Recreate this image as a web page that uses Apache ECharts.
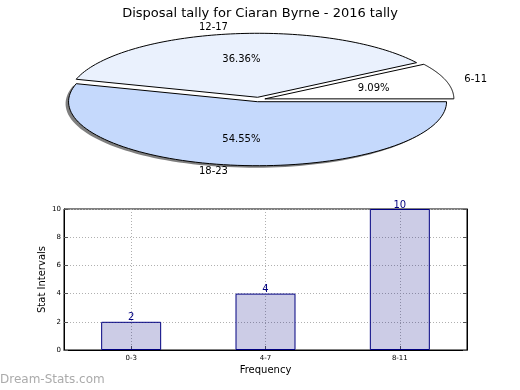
<!DOCTYPE html>
<html><head><meta charset="utf-8">
<script src="https://cdn.jsdelivr.net/npm/echarts@6/dist/echarts.min.js"></script>
<style>html,body{margin:0;padding:0;background:#fff}#c{width:520px;height:390px}</style>
</head><body><div id="c"></div>
<script>
var title = 'Disposal tally for Ciaran Byrne - 2016 tally';
var pieNames = ['6-11', '12-17', '18-23'];
var pieValues = [1, 4, 6];
var barCategories = ['0-3', '4-7', '8-11'];
var barValues = [2, 4, 10];
var yTicks = [0, 2, 4, 6, 8, 10];

var FONT = 'DejaVu Sans';
var pieColors = ['#ffffff', '#eaf1fd', '#c5d9fc'];
var PIE = {cx: 258.5, cy: 99.5, rx: 189, ry: 64, explode: 0.035};
var total = pieValues.reduce(function (a, b) { return a + b; }, 0);

function pt(cx, cy, a) { return [cx + PIE.rx * Math.cos(a), cy - PIE.ry * Math.sin(a)]; }

function renderPie(params, api) {
  var i = params.dataIndex;
  var start = 0;
  for (var k = 0; k < i; k++) start += pieValues[k];
  var a1 = start / total * 2 * Math.PI;
  var a2 = (start + pieValues[i]) / total * 2 * Math.PI;
  var am = (a1 + a2) / 2;
  var cx = PIE.cx + PIE.explode * PIE.rx * Math.cos(am);
  var cy = PIE.cy - PIE.explode * PIE.ry * Math.sin(am);
  var pts = [[cx, cy]];
  var n = 90;
  for (var s = 0; s <= n; s++) pts.push(pt(cx, cy, a1 + (a2 - a1) * s / n));
  var children = [];
  if (i === pieValues.length - 1) {
    var sh = pts.map(function (p) { return [p[0] - 3, p[1] + 2]; });
    children.push({type: 'polygon', shape: {points: sh}, style: {fill: 'rgba(0,0,0,0.5)', stroke: null}});
  }
  children.push({type: 'polygon', shape: {points: pts}, style: {fill: pieColors[i], stroke: '#000', lineWidth: 1}});
  var lx = cx + 1.1 * PIE.rx * Math.cos(am), ly = cy - 1.1 * PIE.ry * Math.sin(am);
  children.push({type: 'text', x: lx, y: ly, style: {text: pieNames[i], font: '10px "' + FONT + '"', fill: '#000',
    align: Math.cos(am) < 0 ? 'right' : 'left', verticalAlign: 'middle'}});
  var px = cx + 0.6 * PIE.rx * Math.cos(am), py = cy - 0.6 * PIE.ry * Math.sin(am);
  children.push({type: 'text', x: px, y: py, style: {text: (pieValues[i] / total * 100).toFixed(2) + '%',
    font: '10px "' + FONT + '"', fill: '#000', align: 'center', verticalAlign: 'middle'}});
  return {type: 'group', children: children};
}

var chart = echarts.init(document.getElementById('c'), null, {renderer: 'canvas'});
var tickLbl = {fontFamily: FONT, fontSize: 7, color: '#000'};
chart.setOption({
  animation: false,
  backgroundColor: '#fff',
  title: {text: title, left: 'center', top: 2, textStyle: {fontFamily: FONT, fontSize: 13, fontWeight: 'normal', color: '#000'}},
  graphic: [{type: 'text', left: 0, top: 374, style: {text: 'Dream-Stats.com', font: '12px "' + FONT + '"', fill: '#ababab'}}],
  grid: {left: 64, right: 53, top: 209, bottom: 40, show: true, borderColor: '#000', borderWidth: 1, backgroundColor: 'transparent'},
  xAxis: [{
    type: 'category', data: barCategories, boundaryGap: true,
    name: 'Frequency', nameLocation: 'middle', nameGap: 15, nameMoveOverlap: false,
    nameTextStyle: {fontFamily: FONT, fontSize: 10, color: '#000'},
    axisLine: {show: true, lineStyle: {color: '#000'}},
    axisTick: {show: true, inside: true, alignWithLabel: true, length: 4, lineStyle: {color: '#555'}},
    axisLabel: Object.assign({margin: 5}, tickLbl),
    splitLine: {show: true, alignWithLabel: true, lineStyle: {color: '#b0b0b0', type: [1, 2]}}
  }],
  yAxis: [{
    type: 'value', min: 0, max: 10, interval: 2,
    name: 'Stat Intervals', nameLocation: 'middle', nameGap: 17, nameRotate: 90, nameMoveOverlap: false,
    nameTextStyle: {fontFamily: FONT, fontSize: 10, color: '#000'},
    axisLine: {show: true, lineStyle: {color: '#000'}},
    axisTick: {show: true, inside: true, length: 4, lineStyle: {color: '#555'}},
    axisLabel: Object.assign({margin: 3, formatter: function (v) { return yTicks.indexOf(v) >= 0 ? String(v) : ''; }}, tickLbl),
    splitLine: {show: true, lineStyle: {color: '#b0b0b0', type: [1, 2]}}
  }, {
    type: 'value', min: 0, max: 10, interval: 2, position: 'right',
    axisLine: {show: true, lineStyle: {color: '#000'}},
    axisTick: {show: true, inside: true, length: 4, lineStyle: {color: '#555'}},
    axisLabel: {show: false}, splitLine: {show: false}
  }],
  series: [{
    type: 'bar', data: barValues, barWidth: 60,
    itemStyle: {color: 'rgba(0,0,128,0.2)', borderColor: '#000080', borderWidth: 1},
    label: {show: true, position: 'top', distance: -1, fontFamily: FONT, fontSize: 10, color: '#000080'},
    z: 1
  }, {
    type: 'custom', coordinateSystem: 'none', renderItem: renderPie,
    data: pieValues.map(function (v, i) { return {value: v, name: pieNames[i]}; }),
    silent: true
  }]
});
</script></body></html>
